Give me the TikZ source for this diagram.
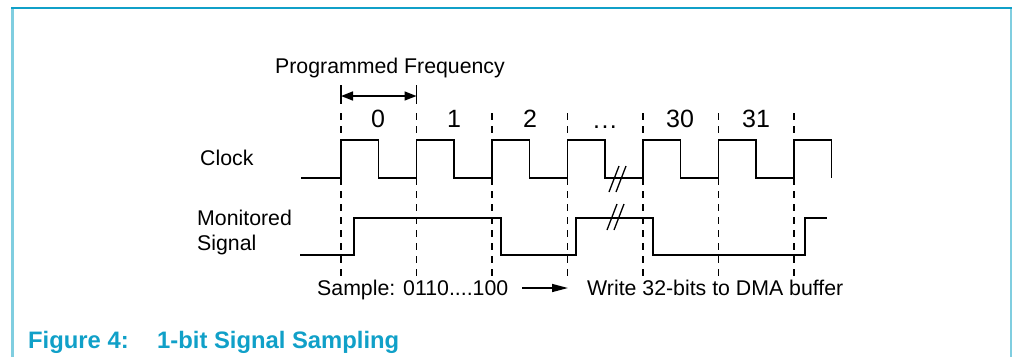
\documentclass[tikz,border=0pt]{standalone}
\usepackage{fontspec}
\setmainfont{Liberation Sans}
\usepackage{tikz}
\usetikzlibrary{arrows.meta,positioning,calc}
\definecolor{capblue}{RGB}{16,160,200}
\definecolor{edgeblue}{RGB}{128,206,224}
\begin{document}
\begin{tikzpicture}[
        x=1pt, y=-1pt,
        lbl/.style={inner sep=0pt, font=\fontsize{21.3}{25}\selectfont},
        num/.style={inner sep=0pt, font=\fontsize{25}{30}\selectfont},
        figcap/.style={inner sep=0pt, anchor=base west, text=capblue, font=\fontsize{23.8}{28}\selectfont\bfseries},
        wave/.style={line width=1.6pt, line join=miter},
        tick/.style={line width=1.4pt, dash pattern=on 7pt off 6pt},
        brk/.style={line width=1.3pt},
        arr/.style={-{Triangle[length=16pt,width=8pt]}, line width=1.5pt},
        dimarr/.style={{Triangle[length=12pt,width=9pt]}-{Triangle[length=12pt,width=9pt]}, line width=1.5pt}
      ]
        \useasboundingbox (0,0) rectangle (1012,357);
        \draw[edgeblue, line width=3pt] (12,8) -- (12,357);
        \draw[edgeblue, line width=2pt] (1011,8) -- (1011,357);
        \draw[capblue, line width=2pt] (11,8) -- (1012,8);

        \foreach \k in {0,...,6} {
          \coordinate (top\k) at (341+75.5*\k,113);
          \coordinate (bot\k) at (341+75.5*\k,282);
          \draw[tick] (top\k) -- (bot\k);
        }

        \node[lbl] (freq) at (390,68) {Programmed Frequency};
        \coordinate (pf0) at (341,96);
        \coordinate (pf1) at (416.5,96);
        \draw[line width=1.4pt] (341,85) -- (341,104) (416.5,85) -- (416.5,104);
        \draw[dimarr] (pf0) -- (pf1);

        \node[num] (n0) at (378,119) {0};
        \node[num] (n1) at (454,119) {1};
        \node[num] (n2) at (530,119) {2};
        \node[num, anchor=base] (n3) at (605,128) {.\kern1.5pt.\kern1.5pt.};
        \node[num] (n30) at (680,119) {30};
        \node[num] (n31) at (756,119) {31};

        \node[lbl, anchor=west] (clk) at (200,158) {Clock};
        \node[lbl, anchor=west, align=left] (mon) at (197,232) {Monitored\\Signal};

        \draw[wave] (301,178) \foreach \k in {0,...,6} {
          -- (341+75.5*\k,178) -- ++(0,-38) -- ++(37.5,0) -- ++(0,38)};
        \draw[wave] (300,255) -- (354,255) -- (354,218) -- (501,218) -- (501,255)
          -- (576,255) -- (576,218) -- (653,218) -- (653,255) -- (805,255) -- (805,218) -- (827,218);

        \draw[brk] (609,192) -- (619,166) (616,192) -- (626,166);
        \draw[brk] (607,230) -- (617,204) (614,230) -- (624,204);

        \node[lbl, anchor=base west] (smp) at (317,295) {Sample: 0110....100};
        \node[lbl, anchor=base west] (dma) at (587,295) {Write 32-bits to DMA buffer};
        \draw[arr] ($(smp.base east)+(14,-7)$) -- ($(dma.base west)+(-19,-7)$);

        \node[figcap] (fig) at (28,348) {Figure 4:};
        \node[figcap] (title) at (157,348) {1-bit Signal Sampling};
      \end{tikzpicture}
\end{document}
